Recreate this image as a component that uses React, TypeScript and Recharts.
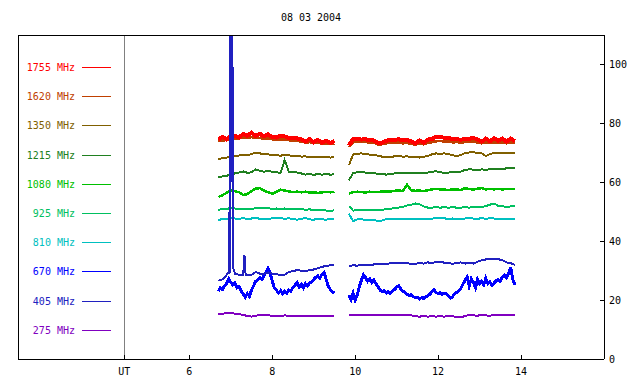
import React from 'react';
import { LineChart, Line, XAxis, YAxis, ReferenceLine } from 'recharts';

const TITLE = '08 03 2004';
const UT_HOUR = 4.43;
const X_TICKS = [UT_HOUR, 6, 8, 10, 12, 14];
const X_TICK_LABELS = ['UT', '6', '8', '10', '12', '14'];
const Y_TICKS = [0, 20, 40, 60, 80, 100];
const GAP_HOUR = 9.7;

const LEGEND_LABELS = ['1755 MHz', '1620 MHz', '1350 MHz', '1215 MHz', '1080 MHz', '925 MHz', '810 MHz', '670 MHz', '405 MHz', '275 MHz'];
const LEGEND_COLORS = ['#ff0000', '#c04000', '#806000', '#208020', '#00c000', '#00c060', '#00c0c0', '#0000ff', '#2020c0', '#8000c0'];

const HOURS_A = [6.7, 6.8, 6.9, 7.0, 7.1, 7.2, 7.3, 7.4, 7.5, 7.6, 7.7, 7.8, 7.9, 8.0, 8.1, 8.2, 8.3, 8.4, 8.5, 8.6, 8.7, 8.8, 8.9, 9.0, 9.1, 9.2, 9.3, 9.4, 9.5];
const HOURS_B = [9.85, 9.95, 10.05, 10.15, 10.25, 10.35, 10.45, 10.55, 10.65, 10.75, 10.85, 10.95, 11.05, 11.15, 11.25, 11.35, 11.45, 11.55, 11.65, 11.75, 11.85, 11.95, 12.05, 12.15, 12.25, 12.35, 12.45, 12.55, 12.65, 12.75, 12.85, 12.95, 13.05, 13.15, 13.25, 13.35, 13.45, 13.55, 13.65, 13.75, 13.85];

const MHZ1755_A = [74.5, 75.4, 74.6, 75.6, 75.8, 75.2, 76.4, 75.8, 76.8, 75.7, 76.5, 75.6, 76.3, 75.3, 75.2, 75.8, 75.6, 75.0, 75.0, 74.9, 74.6, 73.8, 74.7, 73.6, 74.4, 73.4, 74.1, 73.3, 74.0];
const MHZ1755_B = [72.5, 74.7, 74.8, 74.5, 74.6, 74.2, 74.2, 73.4, 73.4, 74.1, 74.4, 74.4, 74.6, 74.2, 74.3, 73.9, 73.2, 74.2, 73.4, 74.5, 74.6, 75.5, 75.4, 75.1, 75.0, 74.7, 74.7, 74.4, 74.8, 74.8, 75.0, 74.6, 73.8, 74.8, 73.9, 75.0, 74.1, 74.9, 73.8, 74.8, 74.0];

const MHZ1620_A = [74.0, 74.2, 74.3, 74.5, 74.8, 74.9, 75.2, 75.0, 75.3, 75.1, 75.0, 74.8, 74.9, 74.6, 74.4, 74.5, 74.6, 74.3, 74.0, 74.1, 73.8, 73.5, 73.6, 73.3, 73.4, 73.1, 73.2, 73.0, 73.2];
const MHZ1620_B = [72.0, 73.5, 73.8, 73.6, 73.7, 73.4, 73.5, 72.8, 72.9, 73.2, 73.4, 73.3, 73.6, 73.2, 73.4, 73.0, 72.8, 73.1, 72.9, 73.3, 73.6, 73.9, 74.1, 73.8, 73.9, 73.5, 73.7, 73.3, 73.8, 73.6, 73.9, 73.5, 73.2, 73.5, 73.3, 73.6, 73.4, 73.6, 73.2, 73.5, 73.3];

const MHZ1350_A = [67.8, 68.2, 68.4, 68.7, 68.9, 69.1, 69.3, 69.2, 69.6, 70.1, 69.8, 69.6, 69.5, 69.2, 69.3, 69.0, 69.4, 69.2, 68.9, 69.0, 68.7, 68.8, 68.5, 68.7, 68.6, 68.4, 68.6, 68.4, 68.5];
const MHZ1350_B = [65.8, 69.4, 69.7, 69.8, 69.6, 69.4, 69.3, 69.0, 68.7, 68.4, 68.6, 68.8, 68.9, 68.7, 68.8, 68.5, 68.6, 68.4, 68.7, 68.9, 69.5, 69.8, 69.7, 69.8, 69.6, 69.2, 68.9, 69.3, 69.9, 70.1, 70.2, 69.9, 69.8, 68.9, 69.6, 69.9, 69.8, 70.0, 69.9, 70.1, 70.0];

const MHZ1215_A = [61.7, 62.0, 62.2, 62.6, 63.0, 63.3, 63.7, 63.2, 63.4, 64.4, 63.9, 63.6, 63.8, 63.6, 63.4, 63.2, 67.5, 63.6, 63.5, 63.3, 63.0, 62.6, 62.8, 62.5, 62.8, 62.6, 62.8, 62.6, 62.7];
const MHZ1215_B = [60.7, 63.1, 63.4, 63.5, 63.3, 63.2, 63.1, 62.9, 62.8, 62.6, 62.8, 63.0, 63.1, 63.0, 63.2, 63.0, 63.1, 63.0, 63.3, 63.3, 63.6, 63.7, 63.4, 63.2, 63.3, 63.6, 63.4, 63.6, 64.2, 64.4, 64.3, 64.1, 64.4, 64.2, 64.5, 64.6, 64.5, 64.6, 64.7, 64.8, 64.9];

const MHZ1080_A = [55.0, 55.6, 56.4, 57.2, 57.0, 56.6, 55.7, 56.0, 57.0, 57.9, 58.0, 57.2, 56.6, 56.1, 56.8, 57.5, 57.2, 56.9, 56.7, 56.8, 56.6, 56.8, 56.5, 56.6, 56.4, 56.6, 56.7, 56.6, 56.8];
const MHZ1080_B = [56.2, 56.6, 56.8, 56.7, 56.5, 56.8, 56.6, 56.7, 56.9, 56.8, 56.9, 57.1, 57.2, 57.0, 59.2, 57.3, 57.1, 57.2, 57.0, 57.3, 57.6, 57.8, 57.6, 57.5, 57.4, 57.6, 57.5, 57.4, 58.0, 57.7, 57.5, 57.8, 58.0, 57.6, 57.7, 57.6, 57.7, 57.6, 57.7, 57.8, 57.8];

const MHZ925_A = [50.6, 51.0, 50.9, 51.3, 51.1, 51.0, 50.8, 51.0, 50.9, 51.2, 51.3, 51.1, 51.2, 51.0, 51.1, 50.9, 51.1, 50.9, 51.0, 50.8, 50.9, 50.7, 50.8, 50.6, 50.5, 50.6, 50.4, 50.3, 50.5];
const MHZ925_B = [51.9, 50.4, 50.5, 50.6, 50.5, 50.7, 50.6, 50.7, 50.6, 51.0, 51.0, 51.3, 51.4, 51.6, 52.1, 52.4, 52.8, 52.6, 51.8, 51.4, 51.4, 51.5, 51.4, 51.5, 51.4, 51.5, 51.4, 51.4, 51.5, 51.4, 51.6, 51.5, 51.6, 51.9, 52.4, 52.8, 52.0, 51.8, 51.7, 51.8, 51.8];

const MHZ810_A = [47.1, 47.6, 47.5, 47.9, 47.7, 47.6, 47.8, 47.5, 47.7, 47.9, 47.6, 47.7, 47.5, 47.8, 47.7, 47.8, 47.6, 47.8, 47.5, 47.3, 47.6, 47.9, 47.4, 47.3, 47.6, 47.4, 47.3, 47.5, 47.4];
const MHZ810_B = [49.3, 46.8, 47.4, 47.4, 47.3, 47.2, 47.2, 46.9, 47.0, 47.5, 47.6, 47.5, 47.6, 47.5, 47.6, 47.5, 47.4, 47.5, 47.4, 47.5, 47.6, 48.0, 47.7, 47.8, 47.4, 47.7, 47.6, 47.5, 47.7, 47.9, 47.7, 47.6, 47.8, 47.6, 47.8, 47.7, 47.6, 47.7, 47.7, 47.6, 47.7];

const MHZ275_A = [15.3, 15.4, 15.5, 15.7, 15.4, 15.2, 15.0, 14.6, 14.4, 14.7, 14.9, 14.8, 14.9, 14.6, 14.5, 14.6, 14.8, 14.7, 14.6, 14.5, 14.6, 14.7, 14.6, 14.6, 14.7, 14.6, 14.6, 14.7, 14.6];
const MHZ275_B = [14.8, 14.8, 14.8, 14.8, 14.8, 14.8, 14.9, 14.8, 14.8, 14.9, 14.8, 14.8, 14.8, 14.8, 14.8, 14.8, 14.5, 14.4, 14.5, 14.4, 14.5, 14.4, 14.5, 14.4, 14.6, 14.5, 14.3, 14.1, 14.6, 15.0, 14.8, 14.7, 15.0, 14.8, 14.7, 14.9, 14.8, 15.0, 15.0, 14.8, 14.8];

const MHZ405_A: [number, number][] = [
  [6.70, 26.6], [6.80, 27.0], [6.90, 28.5], [6.95, 29.5], [6.96, 50.0], [6.97, 29.0], [6.98, 40.0], [6.99, 115],
  [7.00, 70.0], [7.005, 115], [7.01, 60.0], [7.02, 115], [7.03, 80.0], [7.04, 115], [7.05, 45.0], [7.06, 31.0],
  [7.10, 29.0], [7.20, 28.6], [7.30, 28.5], [7.33, 35.3], [7.36, 28.4], [7.40, 28.5], [7.50, 28.6], [7.60, 29.5],
  [7.70, 29.0], [7.80, 28.9], [7.90, 29.4], [8.00, 29.0], [8.10, 28.9], [8.20, 28.4], [8.30, 28.6], [8.40, 29.6],
  [8.50, 29.8], [8.60, 30.2], [8.70, 30.0], [8.80, 29.9], [8.90, 30.1], [9.00, 30.4], [9.10, 30.8], [9.20, 31.3],
  [9.30, 31.6], [9.40, 31.8], [9.50, 31.9],
];
const MHZ405_B = [31.5, 31.8, 31.7, 31.9, 32.0, 31.9, 32.1, 32.2, 32.4, 32.3, 32.5, 32.6, 32.6, 32.5, 32.6, 32.2, 32.3, 32.6, 32.4, 32.8, 32.6, 32.9, 33.0, 32.7, 32.6, 32.3, 32.6, 32.8, 32.4, 32.6, 32.4, 33.0, 33.5, 33.8, 34.0, 33.8, 33.9, 33.5, 32.8, 32.5, 32.0];

const MHZ670_A: [number, number][] = [
  [6.70, 23.0], [6.75, 24.2], [6.80, 23.6], [6.85, 24.8], [6.90, 25.6], [6.95, 27.2], [7.00, 26.0], [7.05, 25.2],
  [7.10, 25.8], [7.15, 24.2], [7.20, 24.6], [7.25, 23.2], [7.30, 22.0], [7.35, 21.0], [7.40, 22.2], [7.45, 21.2],
  [7.50, 23.4], [7.55, 24.8], [7.60, 26.4], [7.65, 26.8], [7.70, 27.6], [7.75, 27.0], [7.80, 28.4], [7.85, 29.4],
  [7.90, 30.8], [7.95, 29.2], [8.00, 26.5], [8.05, 24.2], [8.10, 23.4], [8.15, 22.4], [8.20, 23.2], [8.25, 22.2],
  [8.30, 23.0], [8.35, 22.4], [8.40, 23.4], [8.45, 23.0], [8.50, 24.4], [8.55, 25.0], [8.60, 26.0], [8.65, 24.4],
  [8.70, 25.4], [8.75, 24.2], [8.80, 25.6], [8.85, 24.8], [8.90, 25.8], [8.95, 26.2], [9.00, 27.0], [9.05, 27.8],
  [9.10, 28.2], [9.15, 27.4], [9.20, 28.8], [9.25, 29.4], [9.30, 27.0], [9.35, 24.8], [9.40, 23.6], [9.45, 22.8],
  [9.50, 22.4],
];
const MHZ670_B: [number, number][] = [
  [9.85, 21.8], [9.90, 20.2], [9.95, 22.4], [10.00, 20.0], [10.05, 21.8], [10.10, 24.5], [10.15, 26.8], [10.20, 28.6],
  [10.25, 27.6], [10.30, 26.4], [10.35, 27.2], [10.40, 26.0], [10.45, 26.8], [10.50, 25.6], [10.55, 24.6], [10.60, 23.4],
  [10.65, 22.8], [10.70, 23.2], [10.75, 22.4], [10.80, 22.9], [10.85, 22.3], [10.90, 23.0], [10.95, 23.6], [11.00, 24.4],
  [11.05, 24.8], [11.10, 23.8], [11.15, 23.0], [11.20, 22.6], [11.25, 22.0], [11.30, 21.6], [11.35, 21.8], [11.40, 21.2],
  [11.45, 20.8], [11.50, 21.0], [11.55, 20.4], [11.60, 20.8], [11.65, 20.6], [11.70, 21.2], [11.75, 21.4], [11.80, 22.0],
  [11.85, 22.8], [11.90, 23.6], [11.95, 22.6], [12.00, 22.2], [12.05, 22.6], [12.10, 22.0], [12.15, 22.4], [12.20, 22.2],
  [12.25, 21.4], [12.30, 20.6], [12.35, 21.2], [12.40, 22.2], [12.45, 22.6], [12.50, 23.2], [12.55, 24.0], [12.60, 25.4],
  [12.65, 26.8], [12.70, 27.8], [12.75, 24.8], [12.80, 27.2], [12.85, 26.0], [12.90, 24.2], [12.95, 27.0], [13.00, 25.6],
  [13.05, 26.4], [13.10, 25.2], [13.15, 27.4], [13.20, 25.6], [13.25, 26.2], [13.30, 25.0], [13.35, 25.8], [13.40, 26.6],
  [13.45, 27.0], [13.50, 26.4], [13.55, 27.8], [13.60, 28.4], [13.65, 27.6], [13.70, 29.2], [13.75, 31.2], [13.80, 27.0],
  [13.85, 25.2],
];

type Row = { t: number; v: number | null };

function fromGrid(a: number[], b: number[]): Row[] {
  return [
    ...HOURS_A.map((t, i) => ({ t, v: a[i] })),
    { t: GAP_HOUR, v: null },
    ...HOURS_B.map((t, i) => ({ t, v: b[i] })),
  ];
}
function fromPairs(a: [number, number][], b: [number, number][]): Row[] {
  return [
    ...a.map(([t, v]) => ({ t, v })),
    { t: GAP_HOUR, v: null },
    ...b.map(([t, v]) => ({ t, v })),
  ];
}
const pairB = (vals: number[]): [number, number][] => HOURS_B.map((t, i) => [t, vals[i]]);

const SERIES: { name: string; color: string; width: number; data: Row[] }[] = [
  { name: '275 MHz', color: LEGEND_COLORS[9], width: 2, data: fromGrid(MHZ275_A, MHZ275_B) },
  { name: '670 MHz', color: LEGEND_COLORS[7], width: 3, data: fromPairs(MHZ670_A, MHZ670_B) },
  { name: '810 MHz', color: LEGEND_COLORS[6], width: 2, data: fromGrid(MHZ810_A, MHZ810_B) },
  { name: '925 MHz', color: LEGEND_COLORS[5], width: 2, data: fromGrid(MHZ925_A, MHZ925_B) },
  { name: '1080 MHz', color: LEGEND_COLORS[4], width: 2.5, data: fromGrid(MHZ1080_A, MHZ1080_B) },
  { name: '1215 MHz', color: LEGEND_COLORS[3], width: 2, data: fromGrid(MHZ1215_A, MHZ1215_B) },
  { name: '1350 MHz', color: LEGEND_COLORS[2], width: 2, data: fromGrid(MHZ1350_A, MHZ1350_B) },
  { name: '1620 MHz', color: LEGEND_COLORS[1], width: 2.5, data: fromGrid(MHZ1620_A, MHZ1620_B) },
  { name: '1755 MHz', color: LEGEND_COLORS[0], width: 4, data: fromGrid(MHZ1755_A, MHZ1755_B) },
  { name: '405 MHz', color: LEGEND_COLORS[8], width: 2, data: fromPairs(MHZ405_A, pairB(MHZ405_B)) },
];

const FONT = 'DejaVu Sans Mono';
const W = 640;
const H = 384;
const X_MIN = 1.87;
const X_MAX = 16;
const Y_MAX = 110;

export default function App() {
  const tickStyle = { fontFamily: FONT, fontSize: 10, fill: '#000' };
  return (
    <div style={{ position: 'absolute', left: 0, top: 0, width: W, height: H, background: '#fff', shapeRendering: 'crispEdges' }}>
      <LineChart width={W} height={H} margin={{ top: 34, right: 0, bottom: 0, left: 17 }}>
        <XAxis
          dataKey="t"
          type="number"
          domain={[X_MIN, X_MAX]}
          allowDataOverflow
          ticks={X_TICKS}
          interval={0}
          tickFormatter={(v: number) => X_TICK_LABELS[X_TICKS.indexOf(v)] ?? String(v)}
          height={25}
          tickSize={-4}
          tickMargin={13}
          stroke="#000"
          tick={tickStyle}
        />
        <XAxis
          xAxisId="top"
          orientation="top"
          dataKey="t"
          type="number"
          domain={[X_MIN, X_MAX]}
          allowDataOverflow
          ticks={X_TICKS.slice(1)}
          interval={0}
          height={1}
          tickSize={-4}
          tick={false}
          stroke="#000"
        />
        <YAxis
          orientation="right"
          type="number"
          domain={[0, Y_MAX]}
          allowDataOverflow
          ticks={Y_TICKS}
          interval={0}
          width={36}
          tickSize={-4}
          tickMargin={9}
          stroke="#000"
          tick={tickStyle}
        />
        <YAxis
          yAxisId="left"
          orientation="left"
          type="number"
          domain={[0, Y_MAX]}
          width={1}
          tick={false}
          tickLine={false}
          stroke="#000"
        />
        <ReferenceLine x={UT_HOUR} stroke="#808080" strokeWidth={1} />
        <ReferenceLine y={Y_MAX} stroke="#000" strokeWidth={1} />
        <ReferenceLine x={X_MIN} stroke="#000" strokeWidth={1} />
        {SERIES.map((s) => (
          <Line
            key={s.name}
            data={s.data}
            dataKey="v"
            type="linear"
            stroke={s.color}
            strokeWidth={s.width}
            dot={false}
            activeDot={false}
            connectNulls={false}
            isAnimationActive={false}
          />
        ))}
      </LineChart>
      <svg width={W} height={H} style={{ position: 'absolute', left: 0, top: 0, pointerEvents: 'none' }}>
        <text x={311} y={21} textAnchor="middle" fontFamily={FONT} fontSize={10} fill="#000">{TITLE}</text>
        {LEGEND_LABELS.map((label, i) => {
          const y = Math.round(67 + i * 29.2) + 0.5;
          return (
            <g key={label}>
              <text x={75} y={y + 3.5} textAnchor="end" fontFamily={FONT} fontSize={10} fill={LEGEND_COLORS[i]}>{label}</text>
              <line x1={82} x2={111} y1={y} y2={y} stroke={LEGEND_COLORS[i]} strokeWidth={1} />
            </g>
          );
        })}
      </svg>
    </div>
  );
}
